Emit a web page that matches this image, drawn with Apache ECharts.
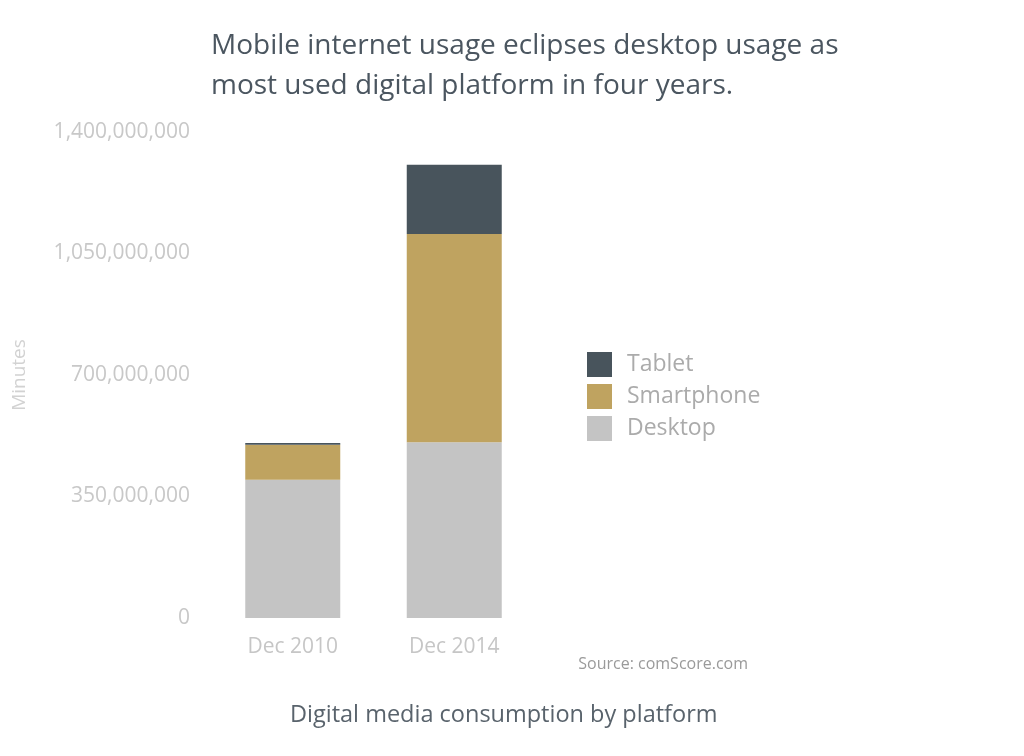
<!DOCTYPE html>
<html>
<head>
<meta charset="utf-8">
<style>
  html, body { margin: 0; padding: 0; background: #fff; }
  #main { width: 1024px; height: 756px; }
</style>
<script src="https://cdn.jsdelivr.net/npm/echarts@6/dist/echarts.min.js"></script>
</head>
<body>
<div id="main"></div>
<script>
var categories = ['Dec 2010', 'Dec 2014'];
var desktop = [398000000, 506000000];
var smartphone = [101000000, 600000000];
var tablet = [5000000, 200000000];
var yTicks = [0, 350000000, 700000000, 1050000000, 1400000000];

var font = '"Open Sans", Lato, sans-serif';

function fmt(v) {
    return String(v).replace(/\B(?=(\d{3})+(?!\d))/g, ',');
}

var option = {
    animation: false,
    textStyle: { fontFamily: font },
    title: [
        {
            text: 'Mobile internet usage eclipses desktop usage as\nmost used digital platform in four years.',
            left: 211,
            top: 26,
            padding: 0,
            textStyle: { fontSize: 28, fontWeight: 'normal', color: '#4b5660', lineHeight: 40, fontFamily: font }
        },
        {
            text: 'Source: comScore.com',
            right: 276,
            top: 656,
            padding: 0,
            textStyle: { fontSize: 16, fontWeight: 'normal', color: '#9a9a9a', fontFamily: font }
        },
        {
            text: 'Digital media consumption by platform',
            left: 290,
            top: 703,
            padding: 0,
            textStyle: { fontSize: 23.5, fontWeight: 'normal', color: '#59636c', fontFamily: font }
        }
    ],
    legend: {
        orient: 'vertical',
        left: 587,
        top: 352,
        padding: 0,
        itemWidth: 25,
        itemHeight: 25,
        itemGap: 7,
        icon: 'rect',
        data: ['Tablet', 'Smartphone', 'Desktop'],
        textStyle: { fontSize: 23, color: '#ababab', fontFamily: font, padding: [3, 0, 0, 10] }
    },
    grid: { left: 212, top: 132, width: 323, height: 486 },
    xAxis: {
        type: 'category',
        data: categories,
        axisLine: { show: false },
        axisTick: { show: false },
        axisLabel: { fontSize: 21, color: '#c6c6c6', margin: 19, fontFamily: font }
    },
    yAxis: {
        type: 'value',
        min: 0,
        max: yTicks[yTicks.length - 1],
        interval: yTicks[1] - yTicks[0],
        name: 'Minutes',
        nameLocation: 'middle',
        nameGap: 183,
        nameTextStyle: { fontSize: 19, color: '#d2d2d2', fontFamily: font },
        splitLine: { show: false },
        axisLine: { show: false },
        axisTick: { show: false },
        axisLabel: {
            fontSize: 21, color: '#c8c8c8', margin: 22, fontFamily: font,
            formatter: fmt
        }
    },
    series: [
        { name: 'Desktop', type: 'bar', stack: 'total', data: desktop, barWidth: 95, itemStyle: { color: '#c4c4c4' } },
        { name: 'Smartphone', type: 'bar', stack: 'total', data: smartphone, barWidth: 95, itemStyle: { color: '#bfa360' } },
        { name: 'Tablet', type: 'bar', stack: 'total', data: tablet, barWidth: 95, itemStyle: { color: '#48545c' } }
    ]
};

var myChart = echarts.init(document.getElementById('main'));
myChart.setOption(option);
</script>
</body>
</html>
